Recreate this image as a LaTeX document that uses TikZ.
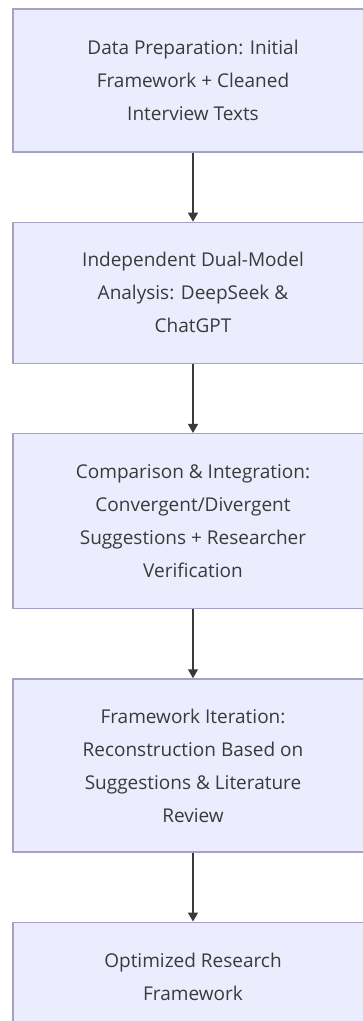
\documentclass[tikz,border=0pt]{standalone}
\usepackage{fontspec}
\setmainfont{Open Sans}
\usetikzlibrary{positioning,arrows.meta}
\definecolor{boxfill}{HTML}{ECECFF}
\definecolor{boxline}{HTML}{A8A2C2}
\definecolor{txtgray}{HTML}{3A3A3A}
\tikzset{stage/.style={draw=boxline, fill=boxfill, line width=1.3pt, minimum width=360pt,
  align=center, text=txtgray, font=\fontsize{19}{33}\selectfont},
  flow/.style={draw=txtgray, line width=1.3pt, -{Triangle[length=9pt,width=10pt]}}}
\begin{document}
\begin{tikzpicture}[x=1pt,y=1pt,node distance=69pt]
\useasboundingbox (0,0) rectangle (363,-1021);
\clip (0,0) rectangle (363,-1021);
\fill[white] (0,0) rectangle (363,-1021);
\node[stage, minimum height=143pt] (prep) at (193,-80.5) {Data Preparation: Initial\\Framework + Cleaned\\Interview Texts};
\node[stage, minimum height=141pt, below=of prep] (dual) {Independent Dual-Model\\Analysis: DeepSeek \&\\ChatGPT};
\node[stage, minimum height=175pt, below=of dual] (compare) {Comparison \& Integration:\\Convergent/Divergent\\Suggestions + Researcher\\Verification};
\node[stage, minimum height=173pt, below=of compare] (iter) {Framework Iteration:\\Reconstruction Based on\\Suggestions \& Literature\\Review};
\node[stage, minimum height=109pt, below=of iter] (final) {Optimized Research\\Framework};
\draw[flow] (prep) -- (dual);
\draw[flow] (dual) -- (compare);
\draw[flow] (compare) -- (iter);
\draw[flow] (iter) -- (final);
\end{tikzpicture}
\end{document}
